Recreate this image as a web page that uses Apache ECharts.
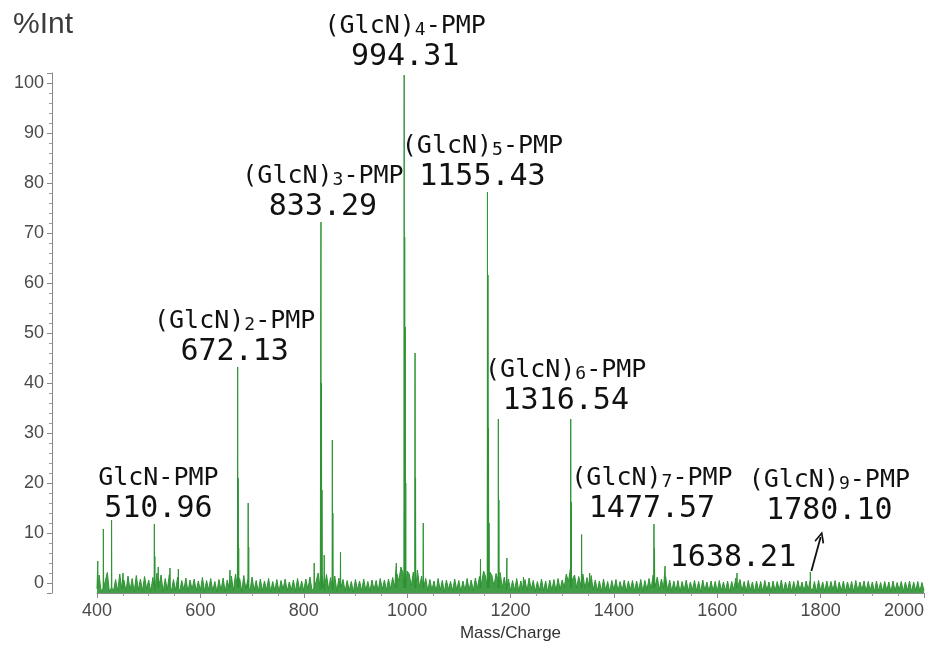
<!DOCTYPE html>
<html>
<head>
<meta charset="utf-8">
<script src="https://cdn.jsdelivr.net/npm/echarts@6/dist/echarts.min.js"></script>
<style>
  html, body { margin: 0; padding: 0; background: #ffffff; }
  #chart { width: 927px; height: 650px; }
</style>
</head>
<body>
<div id="chart"></div>
<script>
// ---- Annotated oligomer peaks (m/z, relative intensity, ion name) ----
const labeledMz  = [510.96, 672.13, 833.29, 994.31, 1155.43, 1316.54, 1477.57, 1638.21, 1780.10];
const labeledInt = [11.8, 43.2, 72.2, 101.6, 78.2, 32.8, 11.8, 2.0, 2.2];
// {n} marks the small degree-of-polymerisation digit
const ionNames   = ['GlcN-PMP', '(GlcN){2}-PMP', '(GlcN){3}-PMP', '(GlcN){4}-PMP',
                    '(GlcN){5}-PMP', '(GlcN){6}-PMP', '(GlcN){7}-PMP', '', '(GlcN){9}-PMP'];

// ---- Other peaks (isotopes, adducts, fragments) ----
const otherMz  = [401.5, 412.3, 428.2, 450.4, 511.96, 518.5, 541.2, 557.4, 657.3, 673.13,
                  674.13, 692.5, 693.5, 820.2, 834.29, 835.29, 839.6, 855.3, 856.3, 871.1,
                  979.2, 995.31, 996.31, 997.31, 1015.3, 1016.3, 1031.2, 1141.9, 1156.43, 1157.43,
                  1158.43, 1176.5, 1177.5, 1193.0, 1225.1, 1317.54, 1337.6, 1353.2, 1478.57, 1499.1];
const otherInt = [4.4, 10.8, 12.6, 2.0, 5.3, 3.2, 3.0, 2.8, 2.6, 21.0,
                  7.0, 16.0, 7.2, 4.0, 40.0, 18.6, 5.6, 28.6, 14.0, 6.2,
                  4.0, 69.2, 51.2, 20.0, 46.0, 21.0, 12.0, 4.8, 61.6, 31.0,
                  12.0, 32.8, 16.6, 5.0, 1.2, 16.2, 9.7, 2.0, 7.0, 3.4];

// ---- Baseline noise, sampled every 4 m/z from 400 ----
const noiseStart = 400;
const noiseStep = 4;
const noise = [
  -1.2, 1.6, -1.7, 0.9, -1.4, 2.1, -1.8, 1.2, -1.5, 0.7, -1.6, 1.8, -1.3, 0.6, -1.7, 1.4, -1.5, 0.9, -1.8, 1.5,
  -1.4, 0.8, -1.6, 1.3, -1.2, 0.6, -1.7, 1.1, -1.5, 2.0, -1.3, 1.6, -1.8, 0.9, -1.4, 1.7, -1.6, 0.7, -1.5, 1.2,
  -1.7, 0.5, -1.4, 1.0, -1.8, 0.6, -1.3, 0.8, -1.6, 0.4, -1.5, 1.1, -1.7, 0.5, -1.4, 0.9, -1.6, 0.3, -1.8, 0.7,
  -1.5, 1.0, -1.7, 0.6, -1.3, 1.4, -1.6, 1.8, -1.4, 0.9, -1.7, 1.5, -1.2, 0.7, -1.6, 1.2, -1.5, 0.5, -1.8, 0.8,
  -1.6, 0.4, -1.4, 0.9, -1.7, 0.3, -1.5, 0.7, -1.8, 0.5, -1.3, 0.8, -1.6, 0.2, -1.4, 0.6, -1.7, 0.9, -1.5, 0.4,
  -1.6, 0.8, -1.3, 1.2, -1.5, 1.6, -1.2, 2.0, -1.4, 1.3, -1.6, 1.7, -1.3, 1.1, -1.5, 1.4, -1.7, 1.0, -1.4, 0.7,
  -1.7, 0.5, -1.5, 0.3, -1.8, 0.7, -1.4, 0.4, -1.6, 0.8, -1.5, 0.3, -1.7, 0.6, -1.4, 0.5, -1.6, 0.9, -1.3, 0.6,
  -1.5, 0.8, -1.2, 1.1, -0.8, 1.9, 0.4, 3.2, 2.0, 4.6, 2.4, 1.8, -0.6, 2.2, 0.8, 2.6, -0.9, 1.4, -1.3, 0.9,
  -1.6, 0.7, -1.4, 0.4, -1.7, 0.9, -1.5, 0.5, -1.8, 0.6, -1.3, 0.3, -1.6, 0.8, -1.4, 0.5, -1.7, 0.4, -1.5, 0.9,
  -1.4, 0.6, -1.6, 1.0, -1.1, 1.3, -0.6, 2.4, 1.2, 3.8, 2.2, 1.5, -0.7, 1.9, 0.6, 2.1, -1.0, 1.2, -1.4, 0.8,
  -1.6, 0.5, -1.5, 0.9, -1.7, 0.4, -1.4, 0.7, -1.6, 1.0, -1.3, 0.5, -1.7, 0.3, -1.5, 0.8, -1.6, 0.4, -1.8, 0.6,
  -1.5, 0.7, -1.6, 0.9, -1.3, 0.6, -0.9, 1.8, 0.2, 2.9, 0.8, 1.6, -1.0, 1.3, -0.4, 1.8, -1.1, 1.1, -0.8, 1.5,
  -1.4, 0.6, -1.6, 0.4, -1.7, 0.8, -1.5, 0.3, -1.8, 0.5, -1.4, 0.7, -1.6, 0.3, -1.5, 0.6, -1.7, 0.4, -1.4, 0.5,
  -1.6, 0.4, -1.5, 0.7, -1.7, 0.5, -1.4, 0.9, -1.2, 1.6, -0.9, 1.2, -1.4, 0.8, -1.1, 1.3, -1.5, 0.6, -1.7, 0.4,
  -1.6, 0.5, -1.8, 0.3, -1.5, 0.6, -1.7, 0.2, -1.4, 0.5, -1.6, 0.3, -1.8, 0.6, -1.5, 0.2, -1.7, 0.4, -1.6, 0.3,
  -1.7, 0.5, -1.5, 0.2, -1.6, 0.4, -1.8, 0.3, -1.4, 1.0, -1.2, 0.7, -1.6, 0.3, -1.7, 0.5, -1.5, 0.2, -1.8, 0.4,
  -1.6, 0.3, -1.7, 0.5, -1.5, 0.2, -1.8, 0.4, -1.6, 0.3, -1.4, 0.6, -1.7, 0.2, -1.5, 0.4, -1.8, 0.3, -1.6, 0.5,
  -1.5, 0.2, -1.7, 0.4, -1.4, 0.7, -1.6, 0.3, -1.8, 0.5, -1.5, 0.2, -1.7, 0.4, -1.6, 0.3, -1.5, 0.5, -1.8, 0.2,
  -1.6, 0.4, -1.7, 0.2, -1.5, 0.3, -1.8, 0.5, -1.6, 0.2, -1.4, 0.4, -1.7, 0.3, -1.5, 0.2, -1.8, 0.4, -1.6, 0.1,
  -1.7, 0.3, -1.5, 0.2, -1.8, 0.4, -1.6, 0.1, -1.4, 0.3, -1.7, 0.2, -1.5, 0.4, -1.8, 0.2, -1.6, 0.3, -1.7, 0.1,
  -1.5
];

// ---- Label placement (pixel offsets from each peak apex) ----
const labelOffsets = [[4, 3], [-3, 3], [2, 3], [1, 0], [-5, 3], [-5, 0], [-2, 3], [-4, 3], [19, -43]];
// Arrow from the 1780.10 peak up towards its label, in axis units relative to the apex
const arrowFrom = [2, 0.2];
const arrowTo = [20, 7.0];

const stickBase = -1.0;
const stickHalfWidth = 0.5;

// Build the spectrum trace: noise samples plus a narrow stick for every peak
const points = [];
noise.forEach((v, i) => points.push([noiseStart + i * noiseStep, v]));
function addStick(mz, h) {
  points.push([mz - stickHalfWidth, stickBase], [mz, h], [mz + stickHalfWidth, stickBase]);
}
labeledMz.forEach((mz, i) => addStick(mz, labeledInt[i]));
otherMz.forEach((mz, i) => addStick(mz, otherInt[i]));
points.sort((a, b) => a[0] - b[0]);

function labelText(i) {
  const num = '{num|' + labeledMz[i].toFixed(2) + '}';
  const name = ionNames[i];
  if (!name) return num;
  const parts = name.split(/\{(\d)\}/);
  let line = '';
  parts.forEach((p, k) => {
    if (!p) return;
    line += (k % 2 === 1) ? '{sub|' + p + '}' : '{name|' + p + '}';
  });
  return line + '\n' + num;
}

const monoFont = "'DejaVu Sans Mono', 'Liberation Mono', monospace";
const axisFont = "'Liberation Sans Narrow', 'Liberation Sans', Arial, sans-serif";
const traceColor = '#2f9434';

const markPoints = labeledMz.map((mz, i) => ({
  coord: [mz, labeledInt[i]],
  label: { offset: labelOffsets[i], formatter: labelText(i) }
}));

const arrowIdx = labeledMz.indexOf(1780.10);
const arrowLine = [[
  { coord: [labeledMz[arrowIdx] + arrowFrom[0], labeledInt[arrowIdx] + arrowFrom[1]] },
  { coord: [labeledMz[arrowIdx] + arrowTo[0], labeledInt[arrowIdx] + arrowTo[1]] }
]];

const chart = echarts.init(document.getElementById('chart'), null, { renderer: 'canvas' });
chart.setOption({
  animation: false,
  backgroundColor: '#ffffff',
  title: {
    text: '%Int',
    left: 8,
    top: 5,
    textStyle: { fontFamily: "'Liberation Sans', Arial, sans-serif", fontSize: 30, fontWeight: 'normal', color: '#3c3c3c' }
  },
  grid: { left: 97, right: 2, top: 73, bottom: 57, containLabel: false },
  xAxis: {
    type: 'value',
    min: 400,
    max: 2000,
    interval: 200,
    name: 'Mass/Charge',
    nameLocation: 'middle',
    nameGap: 31,
    nameTextStyle: { fontFamily: axisFont, fontSize: 17, color: '#333' },
    axisLine: { show: true, onZero: false, lineStyle: { color: '#8a8a8a', width: 1 } },
    axisTick: { show: true, length: 5, lineStyle: { color: '#8a8a8a' } },
    minorTick: { show: true, splitNumber: 4, length: 3, lineStyle: { color: '#9a9a9a' } },
    axisLabel: {
      fontFamily: axisFont, fontSize: 18, color: '#4a4a4a', margin: 9, alignMaxLabel: 'right',
      formatter: v => String(v)
    },
    splitLine: { show: false }
  },
  yAxis: {
    type: 'value',
    min: -2,
    max: 102,
    splitNumber: 10,
    offset: 45,
    axisLine: { show: true, lineStyle: { color: '#8a8a8a', width: 1 } },
    axisTick: { show: true, length: 5, lineStyle: { color: '#8a8a8a' } },
    minorTick: { show: true, splitNumber: 5, length: 3, lineStyle: { color: '#9a9a9a' } },
    axisLabel: {
      fontFamily: axisFont, fontSize: 18, color: '#4a4a4a', margin: 8,
      showMinLabel: false, showMaxLabel: false, formatter: v => String(v)
    },
    splitLine: { show: false }
  },
  series: [{
    type: 'line',
    data: points,
    showSymbol: false,
    symbol: 'none',
    clip: true,
    lineStyle: { color: traceColor, width: 1 },
    areaStyle: { color: traceColor, opacity: 0.9, origin: 'start' },
    markPoint: {
      silent: true,
      symbol: 'circle',
      symbolSize: 0,
      itemStyle: { color: 'transparent' },
      label: {
        show: true,
        position: 'top',
        distance: 0,
        align: 'center',
        color: '#111',
        rich: {
          name: { fontFamily: monoFont, fontSize: 25, lineHeight: 34, color: '#111', verticalAlign: 'bottom' },
          sub:  { fontFamily: monoFont, fontSize: 18, lineHeight: 30, color: '#111', verticalAlign: 'bottom' },
          num:  { fontFamily: monoFont, fontSize: 30, lineHeight: 36, color: '#111' }
        }
      },
      data: markPoints
    },
    markLine: {
      silent: true,
      symbol: ['none', 'path://M5,0 L10,10 L8.6,11 L5,3.6 L1.4,11 L0,10 Z'],
      symbolSize: [10, 12],
      lineStyle: { color: '#111', width: 1.8, type: 'solid', curveness: -0.15 },
      label: { show: false },
      data: arrowLine
    }
  }]
});
</script>
</body>
</html>
